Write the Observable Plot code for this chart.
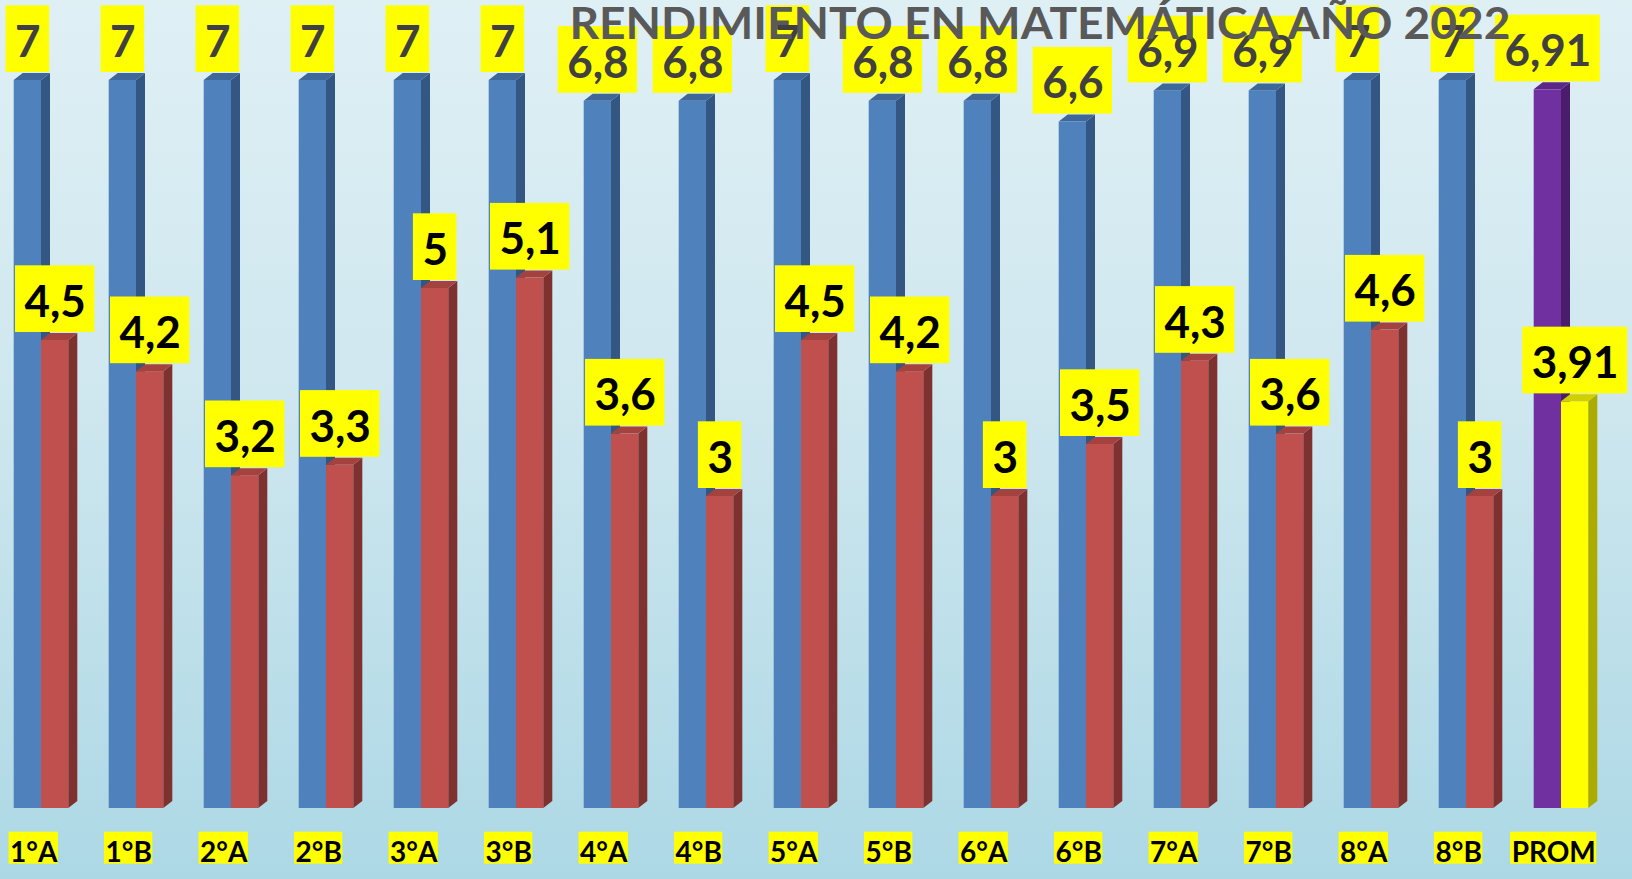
<!DOCTYPE html>
<html>
<head>
<meta charset="utf-8">
<script src="https://cdn.jsdelivr.net/npm/d3@7"></script>
<script src="https://cdn.jsdelivr.net/npm/@observablehq/plot@0.6"></script>
<style>
  html, body { margin: 0; padding: 0; background: #c8e4ee; }
  #chart svg { display: block; }
</style>
</head>
<body>
<div id="chart"></div>
<script>
// ---------- data ----------
const title = "RENDIMIENTO EN MATEMÁTICA AÑO 2022";
const classes = ["1°A","1°B","2°A","2°B","3°A","3°B","4°A","4°B","5°A","5°B","6°A","6°B","7°A","7°B","8°A","8°B","PROM"];
const maxGrades = [7, 7, 7, 7, 7, 7, 6.8, 6.8, 7, 6.8, 6.8, 6.6, 6.9, 6.9, 7, 7, 6.91];
const minGrades = [4.5, 4.2, 3.2, 3.3, 5, 5.1, 3.6, 3, 4.5, 4.2, 3, 3.5, 4.3, 3.6, 4.6, 3, 3.91];

// ---------- layout / style ----------
const W = 1632, H = 879;
const STEP = 95, BW = 27.3, X0 = 13.7;
const PI = 1 - BW / STEP;
const DX3 = 9, DY3 = 7;               // 3D depth
const VAL_FONT = 44, AX_FONT = 28, TITLE_FONT = 44;
const TITLE_LEN = 941;
const AX_CENTER = 19.5;               // category label centre, from bar left
const FONT = "Lato";

const palette = {
  max:     {front: "#4f81bd", top: "#3e6899", side: "#345683", text: "#404040"},
  min:     {front: "#c0504d", top: "#a4423f", side: "#7e312f", text: "#000000"},
  promMax: {front: "#7030a0", top: "#5b2686", side: "#4a1d6c", text: "#404040"},
  promMin: {front: "#ffff00", top: "#d0d000", side: "#abab00", text: "#000000"}
};
const pal = d => d.cls === "PROM" ? (d.serie === "max" ? palette.promMax : palette.promMin) : palette[d.serie];

const maxRows = classes.map((c, i) => ({cls: c, serie: "max", value: maxGrades[i], slot: 0}));
const minRows = classes.map((c, i) => ({cls: c, serie: "min", value: minGrades[i], slot: 1}));
const fmt = v => String(v).replace(".", ",");

const ctx = document.createElement("canvas").getContext("2d");
function textWidth(s, size) { ctx.font = `bold ${size}px ${FONT}`; return ctx.measureText(s).width; }

// side + top faces of the 3D bars, positioned with Plot's scales
function faces(rows) {
  return (index, scales) => {
    const g = d3.create("svg:g");
    const bw = scales.x.bandwidth();
    for (const d of rows) {
      const x0 = scales.x(d.cls) + d.slot * bw, x1 = x0 + bw;
      const yt = scales.y(d.value), yb = scales.y(0);
      const p = pal(d);
      g.append("polygon")
        .attr("points", [[x1, yt], [x1 + DX3, yt - DY3], [x1 + DX3, yb - DY3], [x1, yb]].join(" "))
        .attr("fill", p.side);
      g.append("polygon")
        .attr("points", [[x0, yt], [x0 + DX3, yt - DY3], [x1 + DX3, yt - DY3], [x1, yt]].join(" "))
        .attr("fill", p.top);
    }
    return g.node();
  };
}

// yellow boxes behind value labels
function valueBoxes(rows) {
  return (index, scales) => {
    const g = d3.create("svg:g");
    const bw = scales.x.bandwidth();
    for (const d of rows) {
      const cx = scales.x(d.cls) + d.slot * bw + bw / 2;
      const w = textWidth(fmt(d.value), VAL_FONT) + 18;
      const bottom = scales.y(d.value) - DY3 - 1;
      g.append("rect").attr("x", cx - w / 2).attr("y", bottom - 66.7)
        .attr("width", w).attr("height", 66.7).attr("fill", "#ffff00");
    }
    return g.node();
  };
}

// yellow boxes behind category labels
function axisBoxes() {
  return (index, scales, values, dims) => {
    const g = d3.create("svg:g");
    for (const c of classes) {
      const w = textWidth(c, AX_FONT) + 2;
      const cx = scales.x(c) + AX_CENTER;
      g.append("rect").attr("x", cx - w / 2).attr("y", dims.height - 47.3)
        .attr("width", w).attr("height", 32).attr("fill", "#ffff00");
    }
    return g.node();
  };
}

const valueText = (rows, dx) => Plot.text(rows, {
  x: "cls", y: "value", text: d => fmt(d.value), fill: d => pal(d).text,
  fontSize: VAL_FONT, fontWeight: "bold", fontFamily: FONT,
  lineAnchor: "middle", dx, dy: -37.7
});

const chart = Plot.plot({
  width: W, height: H,
  margin: 0,
  style: {fontFamily: FONT, background: "linear-gradient(180deg, #dff0f5 0%, #cfe7ef 45%, #acd8e5 100%)"},
  x: {type: "band", domain: classes, range: [X0, X0 + STEP * (classes.length - PI)],
      paddingInner: PI, paddingOuter: 0, align: 0, round: false, axis: null},
  y: {domain: [0, 7], range: [808, 80], axis: null},
  marks: [
    Plot.barY(maxRows, {x: "cls", y: "value", fill: d => pal(d).front}),
    faces(maxRows),
    Plot.barY(minRows, {x: "cls", y: "value", fill: d => pal(d).front, dx: BW}),
    faces(minRows),
    valueBoxes(maxRows),
    valueBoxes(minRows),
    valueText(maxRows, 0),
    valueText(minRows, BW),
    axisBoxes(),
    Plot.text(classes, {
      x: d => d, frameAnchor: "bottom", textAnchor: "middle", lineAnchor: "middle",
      dx: AX_CENTER - BW / 2, dy: -26.3, fontSize: AX_FONT, fontWeight: "bold", fill: "#000"
    }),
    Plot.text([title], {
      frameAnchor: "top", lineAnchor: "middle", dx: 223.5, dy: 38.3 - 0.32 * TITLE_FONT,
      fontSize: TITLE_FONT, fontWeight: "bold", fill: "#595959"
    })
  ]
});
d3.select(chart).selectAll("text")
  .filter(function () { return this.textContent === title; })
  .attr("textLength", TITLE_LEN).attr("lengthAdjust", "spacingAndGlyphs");
document.getElementById("chart").append(chart);
</script>
</body>
</html>
